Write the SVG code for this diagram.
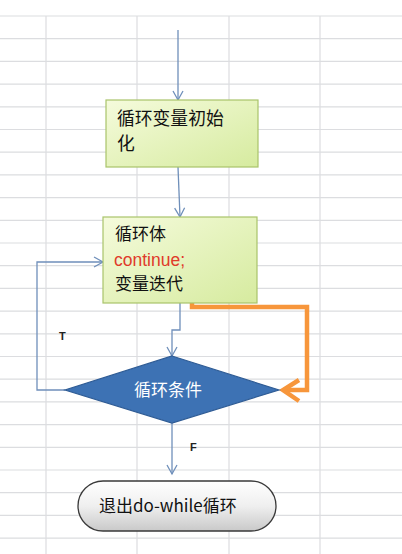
<svg xmlns="http://www.w3.org/2000/svg" width="402" height="554" viewBox="0 0 402 554">
<defs>
<style>
.grid{stroke:#dcdde0;stroke-width:1.2;fill:none}
.conn{stroke:#6f8fba;stroke-width:1.3;fill:none}
.cn{font-family:"Noto Sans CJK SC","Liberation Sans",sans-serif;font-size:17px;fill:#111}
.lbl{font-family:"Liberation Sans",sans-serif;font-size:11px;fill:#222;font-weight:bold}
</style>
<linearGradient id="gGreen" x1="0" y1="0" x2="1" y2="1">
<stop offset="0" stop-color="#f5fbdc"/>
<stop offset="1" stop-color="#d6eb9f"/>
</linearGradient>
<linearGradient id="gGray" x1="0" y1="0" x2="0" y2="1">
<stop offset="0" stop-color="#ffffff"/>
<stop offset="0.5" stop-color="#efefef"/>
<stop offset="1" stop-color="#c9c9c9"/>
</linearGradient>
<marker id="arr" markerWidth="12" markerHeight="12" refX="10" refY="6" orient="auto" markerUnits="userSpaceOnUse">
<path d="M1,1 L10,6 L1,11" fill="none" stroke="#6f8fba" stroke-width="1.3"/>
</marker>
</defs>
<rect width="402" height="554" fill="#ffffff"/>
<g id="grid" class="grid">
<path d="M46,16V554M137,16V554M229,16V554M320,16V554"/>
<path d="M0,16H402M0,38.7H402M0,61.4H402M0,84.1H402M0,106.8H402M0,129.5H402M0,152.2H402M0,174.9H402M0,197.6H402M0,220.3H402M0,243H402M0,265.7H402M0,288.4H402M0,311.1H402M0,333.8H402M0,356.5H402M0,379.2H402M0,401.9H402M0,424.6H402M0,447.3H402M0,470H402M0,492.7H402M0,515.4H402M0,538.1H402"/>
</g>
<g id="connectors">
<path class="conn" d="M178,30V100" marker-end="url(#arr)"/>
<path class="conn" d="M178,167L180,217" marker-end="url(#arr)"/>
<path class="conn" d="M180,303V330H172V356" marker-end="url(#arr)"/>
<path class="conn" d="M65,390H37V262H103" marker-end="url(#arr)"/>
<path class="conn" d="M172,423V474" marker-end="url(#arr)"/>
<path d="M192,260V307H307V390H284" fill="none" stroke="#f7963b" stroke-width="4.5" stroke-linejoin="miter"/>
<path d="M299,380L283,390L299,401" fill="none" stroke="#f7963b" stroke-width="4.5"/>
<text class="lbl" x="59" y="340">T</text>
<text class="lbl" x="190" y="451">F</text>
</g>
<g id="init">
<rect x="106" y="100" width="152" height="67" fill="url(#gGreen)" stroke="#a9c46a" stroke-width="1.2"/>
<text class="cn" x="117" y="125" style="font-size:17.8px">循环变量初始</text>
<text class="cn" x="117" y="150" style="font-size:17.8px">化</text>
</g>
<g id="body">
<rect x="103" y="217" width="154" height="86" fill="url(#gGreen)" stroke="#a9c46a" stroke-width="1.2"/>
<text class="cn" x="115" y="240">循环体</text>
<text x="114" y="266" font-family="Liberation Sans, sans-serif" font-size="17.5" fill="#e03a2a">continue;</text>
<text class="cn" x="115" y="290">变量迭代</text>
</g>
<g id="cond">
<path d="M172,356L279,390L172,423L65,390Z" fill="#3d72b4" stroke="#2f5c95" stroke-width="1.2"/>
<text class="cn" x="168" y="396" text-anchor="middle" style="fill:#ffffff">循环条件</text>
</g>
<g id="exit">
<rect x="78" y="481" width="198" height="50" rx="25" ry="25" fill="url(#gGray)" stroke="#3a3a3a" stroke-width="1.3"/>
<text class="cn" x="99" y="512">退出do-while循环</text>
</g>
</svg>
